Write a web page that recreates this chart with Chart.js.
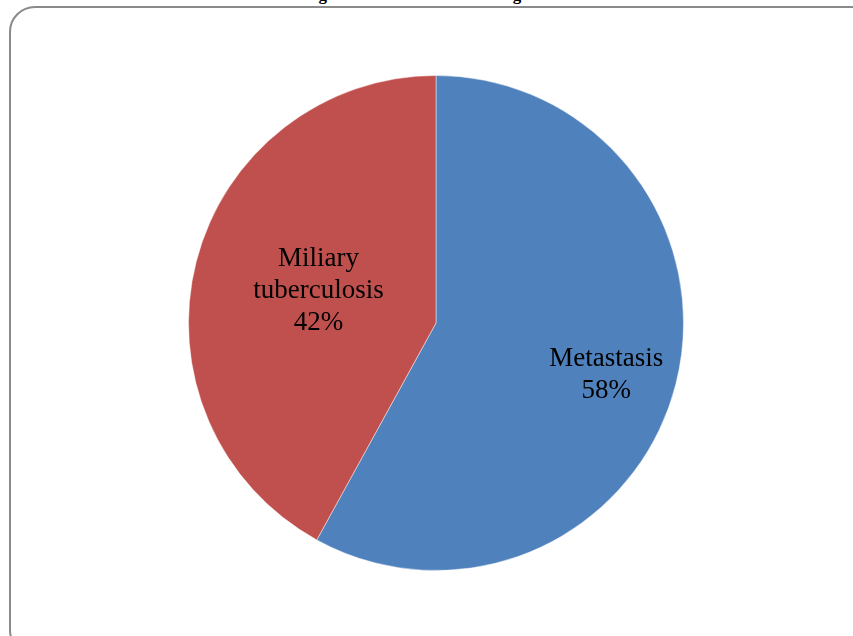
<!DOCTYPE html>
<html>
<head>
<meta charset="utf-8">
<script src="https://cdn.jsdelivr.net/npm/chart.js@4/dist/chart.umd.min.js"></script>
<style>
  html, body { margin: 0; padding: 0; background: #ffffff; overflow: hidden; }
  #wrap { position: relative; width: 853px; height: 636px; overflow: hidden; }
  #frame {
    position: absolute; left: 9px; top: 6px; width: 872px; height: 650px;
    border: 2px solid #8a8a8a; border-radius: 26px; box-sizing: border-box;
  }
  #caption {
    position: absolute; left: 0; width: 853px; top: -15px; text-align: center;
    font: bold 17px "Liberation Serif", "DejaVu Serif", serif; color: #000;
    letter-spacing: 0.6px; padding-left: 36px; box-sizing: border-box;
  }
  #chart { position: absolute; left: 0; top: 0; width: 853px; height: 636px; }
</style>
</head>
<body>
<div id="wrap">
  <div id="caption">Figure 3: Nature of the lung nodules</div>
  <div id="frame"></div>
  <div id="chart"><canvas id="pie"></canvas></div>
</div>
<script>
// Nodule types and their share (%)
const categories = ["Metastasis", "Miliary tuberculosis"];
const shares = [58, 42];
const labelLines = [["Metastasis"], ["Miliary", "tuberculosis"]];

const sliceColors = ["#4F81BD", "#C0504D"];

// Writes each slice's name and percentage inside the slice
const sliceLabels = {
  id: "sliceLabels",
  afterDatasetsDraw(chart, args, opts) {
    const ctx = chart.ctx;
    const meta = chart.getDatasetMeta(0);
    const values = chart.data.datasets[0].data;
    ctx.save();
    ctx.font = opts.font;
    ctx.fillStyle = "#000";
    ctx.textAlign = "center";
    ctx.textBaseline = "middle";
    meta.data.forEach((arc, i) => {
      const p = arc.getProps(["x", "y", "startAngle", "endAngle", "outerRadius"], true);
      const mid = (p.startAngle + p.endAngle) / 2;
      const r = p.outerRadius * opts.radiusFraction[i];
      const cx = p.x + Math.cos(mid) * r;
      const cy = p.y + Math.sin(mid) * r + opts.shiftY[i];
      const lines = labelLines[i].concat([values[i] + "%"]);
      const lh = opts.lineHeight;
      const y0 = cy - (lines.length - 1) * lh / 2;
      lines.forEach((t, k) => ctx.fillText(t, cx, y0 + k * lh));
    });
    ctx.restore();
  }
};

new Chart(document.getElementById("pie"), {
  type: "pie",
  data: {
    labels: categories,
    datasets: [{
      data: shares,
      backgroundColor: sliceColors,
      borderColor: "rgba(255,255,255,0.45)",
      borderWidth: 1
    }]
  },
  options: {
    responsive: true,
    maintainAspectRatio: false,
    animation: false,
    layout: { padding: { top: 75, bottom: 65, left: 19, right: 0 } },
    plugins: {
      legend: { display: false },
      tooltip: { enabled: false },
      sliceLabels: {
        font: '27px "Liberation Serif", "DejaVu Serif", serif',
        lineHeight: 32,
        radiusFraction: [0.71, 0.49],
        shiftY: [8, -2]
      }
    }
  },
  plugins: [sliceLabels]
});
</script>
</body>
</html>
